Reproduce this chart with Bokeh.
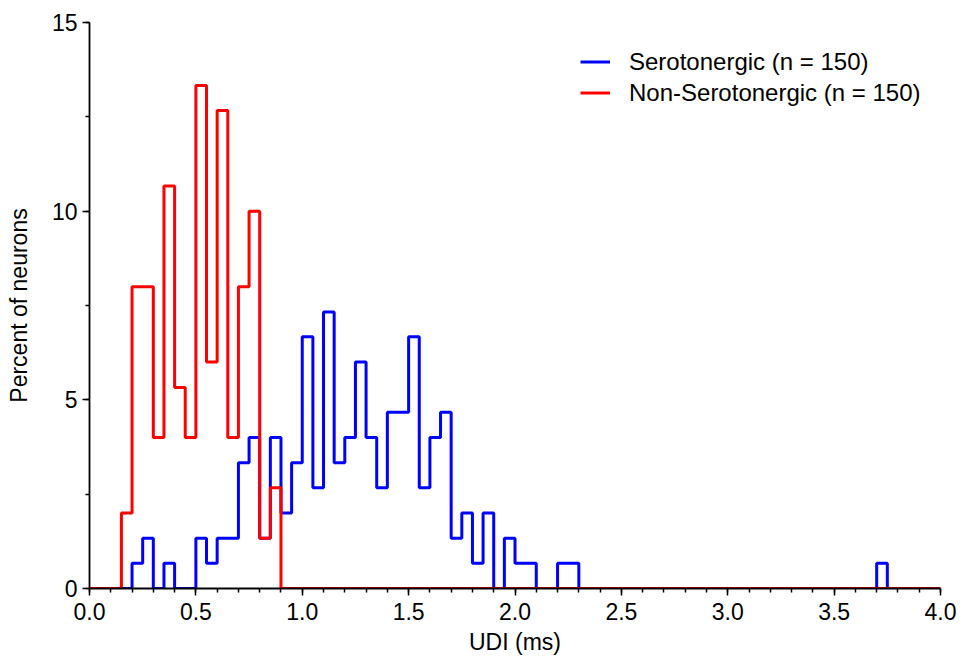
import numpy as np
from bokeh.plotting import figure
from bokeh.models import Range1d, SingleIntervalTicker, NumeralTickFormatter, Legend, LegendItem
from bokeh.embed import file_html
from bokeh.resources import INLINE

# ---- data (percent of neurons per 0.05 ms UDI bin; bin lower edges) ----
bin_width = 0.05
x_start, x_end = 0.0, 4.0

sero_bin_lo = [0.20, 0.25, 0.35, 0.50, 0.55, 0.60, 0.65, 0.70, 0.75, 0.80,
               0.85, 0.90, 0.95, 1.00, 1.05, 1.10, 1.15, 1.20, 1.25, 1.30,
               1.35, 1.40, 1.45, 1.50, 1.55, 1.60, 1.65, 1.70, 1.75, 1.80,
               1.85, 1.95, 2.00, 2.05, 2.20, 2.25, 3.70]
sero_pct = [0.67, 1.33, 0.67, 1.33, 0.67, 1.33, 1.33, 3.33, 4.00, 1.33,
            4.00, 2.00, 3.33, 6.67, 2.67, 7.33, 3.33, 4.00, 6.00, 4.00,
            2.67, 4.67, 4.67, 6.67, 2.67, 4.00, 4.67, 1.33, 2.00, 0.67,
            2.00, 1.33, 0.67, 0.67, 0.67, 0.67, 0.67]

non_bin_lo = [0.15, 0.20, 0.25, 0.30, 0.35, 0.40, 0.45, 0.50, 0.55, 0.60,
              0.65, 0.70, 0.75, 0.80, 0.85]
non_pct = [2.00, 8.00, 8.00, 4.00, 10.67, 5.33, 4.00, 13.33, 6.00, 12.67,
           4.00, 8.00, 10.00, 1.33, 2.67]

series_labels = ["Serotonergic (n = 150)", "Non-Serotonergic (n = 150)"]
series_colors = ["#0000ff", "#ff0000"]

x_ticks_major = 0.5
y_ticks_major = 5


def full_steps(bin_lo, pct):
    n_bins = int(round((x_end - x_start) / bin_width))
    edges = [round(x_start + i * bin_width, 2) for i in range(n_bins + 1)]
    lookup = {round(b, 2): v for b, v in zip(bin_lo, pct)}
    ys = [lookup.get(e, 0.0) for e in edges[:-1]]
    ys.append(ys[-1])
    return edges, ys


FONT = "Liberation Sans"

p = figure(width=958, height=660, output_backend="svg", toolbar_location=None,
           x_range=Range1d(x_start, x_end), y_range=Range1d(0, 15),
           min_border_left=89, min_border_right=18, min_border_top=22, min_border_bottom=72)
p.outline_line_color = None
p.xgrid.visible = False
p.ygrid.visible = False

renderers = []
for (bl, pc), col in zip([(sero_bin_lo, sero_pct), (non_bin_lo, non_pct)], series_colors):
    xs, ys = full_steps(bl, pc)
    r = p.step(xs, ys, mode="after", line_color=col, line_width=3)
    renderers.append(r)

p.xaxis.ticker = SingleIntervalTicker(interval=x_ticks_major, num_minor_ticks=5)
p.yaxis.ticker = SingleIntervalTicker(interval=y_ticks_major, num_minor_ticks=2)
p.xaxis.formatter = NumeralTickFormatter(format="0.0")
p.yaxis.formatter = NumeralTickFormatter(format="0")

for ax in (p.xaxis, p.yaxis):
    ax.axis_line_color = "black"
    ax.axis_line_width = 1.8
    ax.major_tick_line_color = "black"
    ax.major_tick_line_width = 1.5
    ax.minor_tick_line_color = "black"
    ax.minor_tick_line_width = 1.5
    ax.major_tick_in = 0
    ax.major_tick_out = 7
    ax.minor_tick_in = 0
    ax.minor_tick_out = 4
    ax.major_label_text_font = FONT
    ax.major_label_text_font_size = "23px"
    ax.major_label_text_color = "black"
    ax.axis_label_text_font = FONT
    ax.axis_label_text_font_size = "23px"
    ax.axis_label_text_font_style = "normal"
    ax.axis_label_text_color = "black"

p.xaxis.axis_label = "UDI (ms)"
p.yaxis.axis_label = "Percent of neurons"
p.xaxis.major_label_standoff = 7
p.yaxis.major_label_standoff = 5
p.xaxis.axis_label_standoff = 6
p.yaxis.axis_label_standoff = 17

legend = Legend(items=[LegendItem(label=lab, renderers=[r]) for lab, r in zip(series_labels, renderers)],
                location=(491, 480))
legend.padding = 0
legend.margin = 0
legend.spacing = 0
legend.border_line_color = None
legend.background_fill_alpha = 0
legend.glyph_width = 30
legend.glyph_height = 31
legend.label_height = 31
legend.label_standoff = 19
legend.label_text_font = FONT
legend.label_text_font_size = "24px"
legend.label_text_color = "black"
p.add_layout(legend, "center")

open("out.html", "w").write(file_html(p, INLINE))
